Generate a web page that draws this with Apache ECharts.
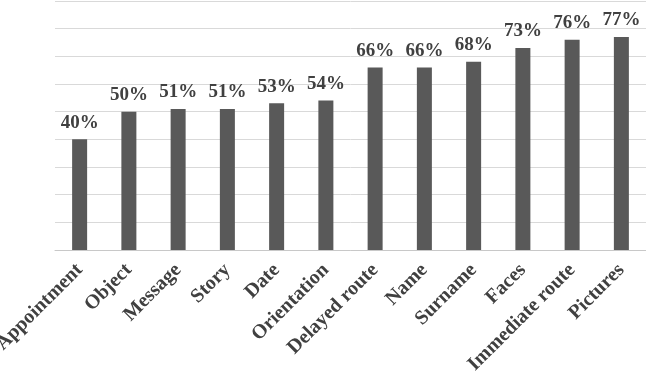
<!DOCTYPE html>
<html><head><meta charset="utf-8">
<script src="https://cdn.jsdelivr.net/npm/echarts@6/dist/echarts.min.js"></script>
<style>html,body{margin:0;padding:0;background:#fff}#c{width:646px;height:375px}</style>
</head><body><div id="c"></div>
<script>
const categories = ["Appointment","Object","Message","Story","Date","Orientation","Delayed route","Name","Surname","Faces","Immediate route","Pictures"];
const values = [40,50,51,51,53,54,66,66,68,73,76,77];
const chart = echarts.init(document.getElementById('c'), null, {renderer:'canvas'});
chart.setOption({
  animation:false,
  grid:{left:55,right:0,top:1,bottom:125,containLabel:false,outerBoundsMode:'none'},
  xAxis:{type:'category',data:categories,
    axisLine:{lineStyle:{color:'#c8c8c8',width:1}},
    axisTick:{show:false},
    axisLabel:{rotate:45,interval:0,margin:17,color:'#404040',fontFamily:'Liberation Serif',fontWeight:'bold',fontSize:20}},
  yAxis:{type:'value',min:0,max:90,interval:10,
    axisLabel:{show:false},axisLine:{show:false},axisTick:{show:false},
    splitLine:{lineStyle:{color:'#d9d9d9',width:1}}},
  series:[{type:'bar',data:values,barWidth:15,
    itemStyle:{color:'#595959'},
    label:{show:true,position:'top',distance:7,formatter:'{c}%',color:'#404040',fontFamily:'Liberation Serif',fontWeight:'bold',fontSize:19}}]
});
</script></body></html>
